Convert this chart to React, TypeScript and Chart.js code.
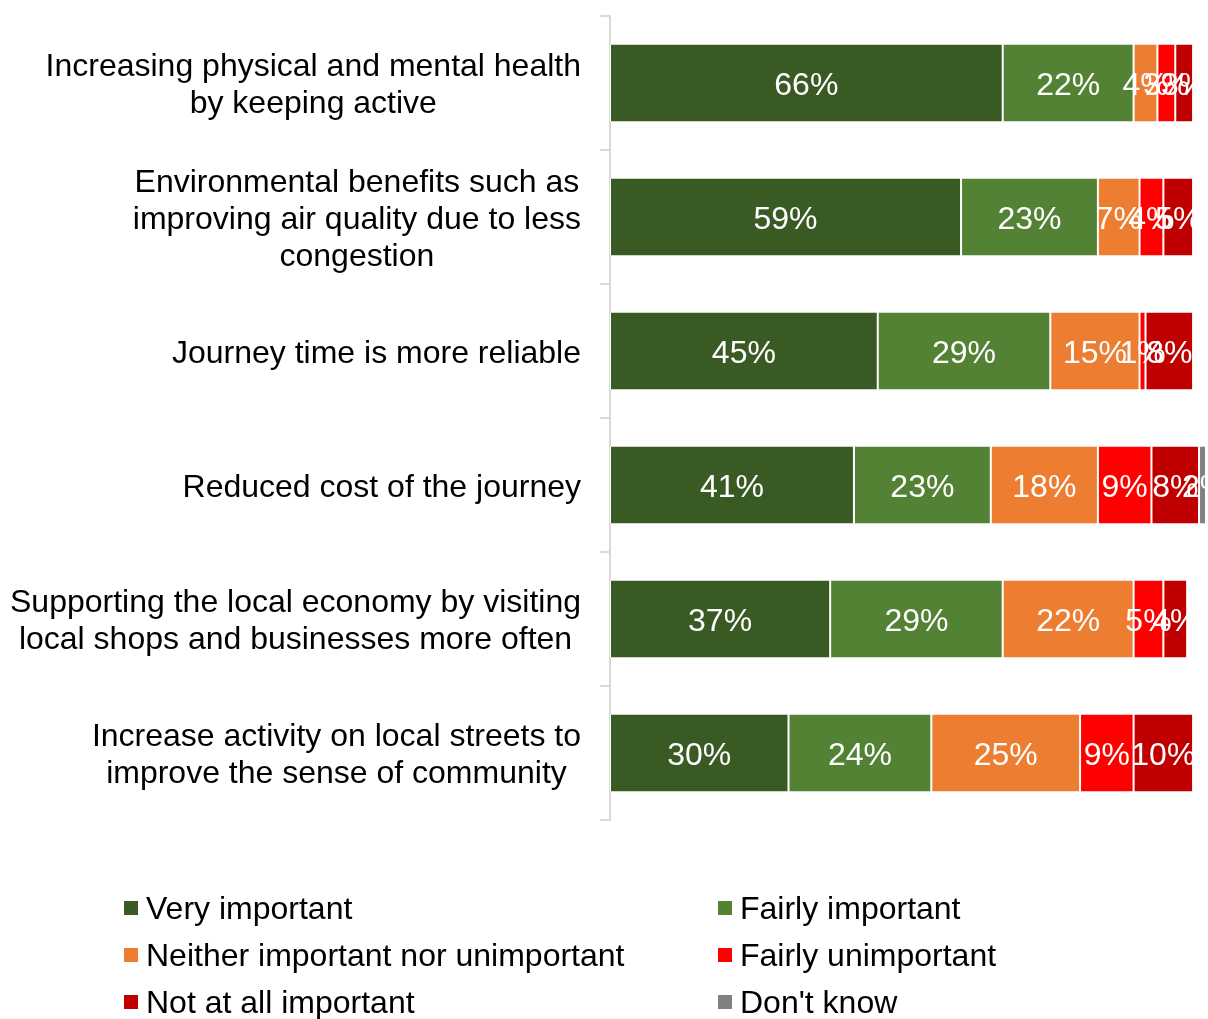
import React, { useEffect, useRef } from "react";
import { Chart, registerables } from "chart.js";

Chart.register(...registerables);

const categories: string[][] = [
  ["Increasing physical and mental health", "by keeping active"],
  ["Environmental benefits such as", "improving air quality due to less", "congestion"],
  ["Journey time is more reliable"],
  ["Reduced cost of the journey"],
  ["Supporting the local economy by visiting", "local shops and businesses more often"],
  ["Increase activity on local streets to", "improve the sense of community"],
];

const seriesNames = [
  "Very important",
  "Fairly important",
  "Neither important nor unimportant",
  "Fairly unimportant",
  "Not at all important",
  "Don't know",
];

const veryImportant = [66, 59, 45, 41, 37, 30];
const fairlyImportant = [22, 23, 29, 23, 29, 24];
const neither = [4, 7, 15, 18, 22, 25];
const fairlyUnimportant = [3, 4, 1, 9, 5, 9];
const notAtAll = [3, 5, 8, 8, 4, 10];
const dontKnow = [0, 0, 0, 2, 0, 0];

const colors = ["#3A5A24", "#548235", "#ED7D31", "#FF0000", "#C00000", "#808080"];

const FONT = "'Liberation Sans', Arial, sans-serif";
const FS = 32;

export default function App() {
  const ref = useRef<HTMLCanvasElement | null>(null);

  useEffect(() => {
    if (!ref.current) return;
    const values = [veryImportant, fairlyImportant, neither, fairlyUnimportant, notAtAll, dontKnow];

    const labelPlugin = {
      id: "customLabels",
      afterDatasetsDraw(chart: any) {
        const ctx = chart.ctx;
        ctx.save();
        ctx.font = `${FS}px ${FONT}`;
        ctx.fillStyle = "#ffffff";
        ctx.textAlign = "center";
        ctx.textBaseline = "middle";
        chart.data.datasets.forEach((ds: any, di: number) => {
          const meta = chart.getDatasetMeta(di);
          meta.data.forEach((bar: any, i: number) => {
            const v = ds.data[i];
            if (!v) return;
            const left = bar.base;
            const right = bar.x;
            ctx.fillText(`${v}%`, (left + right) / 2, bar.y + 3);
          });
        });
        const yScale = chart.scales.y;
        ctx.fillStyle = "#000000";
        ctx.font = `${FS}px ${FONT}`;
        const rightEdge = 581;
        const lh = 37;
        categories.forEach((lines, i) => {
          const y = yScale.getPixelForValue(i);
          const widest = Math.max(...lines.map((l) => ctx.measureText(l).width));
          const cx = rightEdge - widest / 2;
          const start = y - ((lines.length - 1) * lh) / 2;
          lines.forEach((l, k) => {
            ctx.fillText(l, cx, start + k * lh + 3);
          });
        });
        ctx.restore();
      },
    };

    const chart = new Chart(ref.current, {
      type: "bar",
      data: {
        labels: categories.map((c) => c.join(" ")),
        datasets: seriesNames.map((name, k) => ({
          label: name,
          data: values[k],
          backgroundColor: colors[k],
          borderColor: "#ffffff",
          borderWidth: { left: 1, right: 1, top: 0, bottom: 0 },
          borderSkipped: false,
          barPercentage: 0.575,
          categoryPercentage: 1,
        })),
      },
      options: {
        indexAxis: "y",
        animation: false,
        responsive: false,
        maintainAspectRatio: false,
        layout: { padding: { top: 16, bottom: 199, left: 0, right: 3 } },
        plugins: {
          legend: { display: false },
          tooltip: { enabled: false },
        },
        scales: {
          x: {
            stacked: true,
            display: false,
            min: 0,
            max: 100,
          },
          y: {
            stacked: true,
            afterFit(scale: any) {
              scale.width = 610;
            },
            grid: {
              offset: true,
              drawOnChartArea: false,
              drawTicks: true,
              tickLength: 10,
              color: "#D9D9D9",
              lineWidth: 2,
            },
            border: { display: true, color: "#D9D9D9", width: 2 },
            ticks: { display: false },
          },
        },
      },
      plugins: [labelPlugin],
    } as any);

    return () => chart.destroy();
  }, []);

  const legendPos = [
    { x: 124, y: 908 },
    { x: 718, y: 908 },
    { x: 124, y: 955 },
    { x: 718, y: 955 },
    { x: 124, y: 1002 },
    { x: 718, y: 1002 },
  ];

  return (
    <div style={{ position: "absolute", left: 0, top: 0, width: 1208, height: 1019, background: "#fff", overflow: "hidden" }}>
      <canvas ref={ref} width={1208} height={1019} style={{ position: "absolute", left: 0, top: 0, width: 1208, height: 1019 }} />
      {seriesNames.map((name, k) => (
        <div
          key={name}
          style={{
            position: "absolute",
            left: legendPos[k].x,
            top: legendPos[k].y - 20,
            height: 40,
            display: "flex",
            alignItems: "center",
            fontFamily: FONT,
            fontSize: FS,
            color: "#000",
            whiteSpace: "nowrap",
          }}
        >
          <span style={{ display: "inline-block", width: 14, height: 14, background: colors[k], marginRight: 8 }} />
          <span>{name}</span>
        </div>
      ))}
    </div>
  );
}
